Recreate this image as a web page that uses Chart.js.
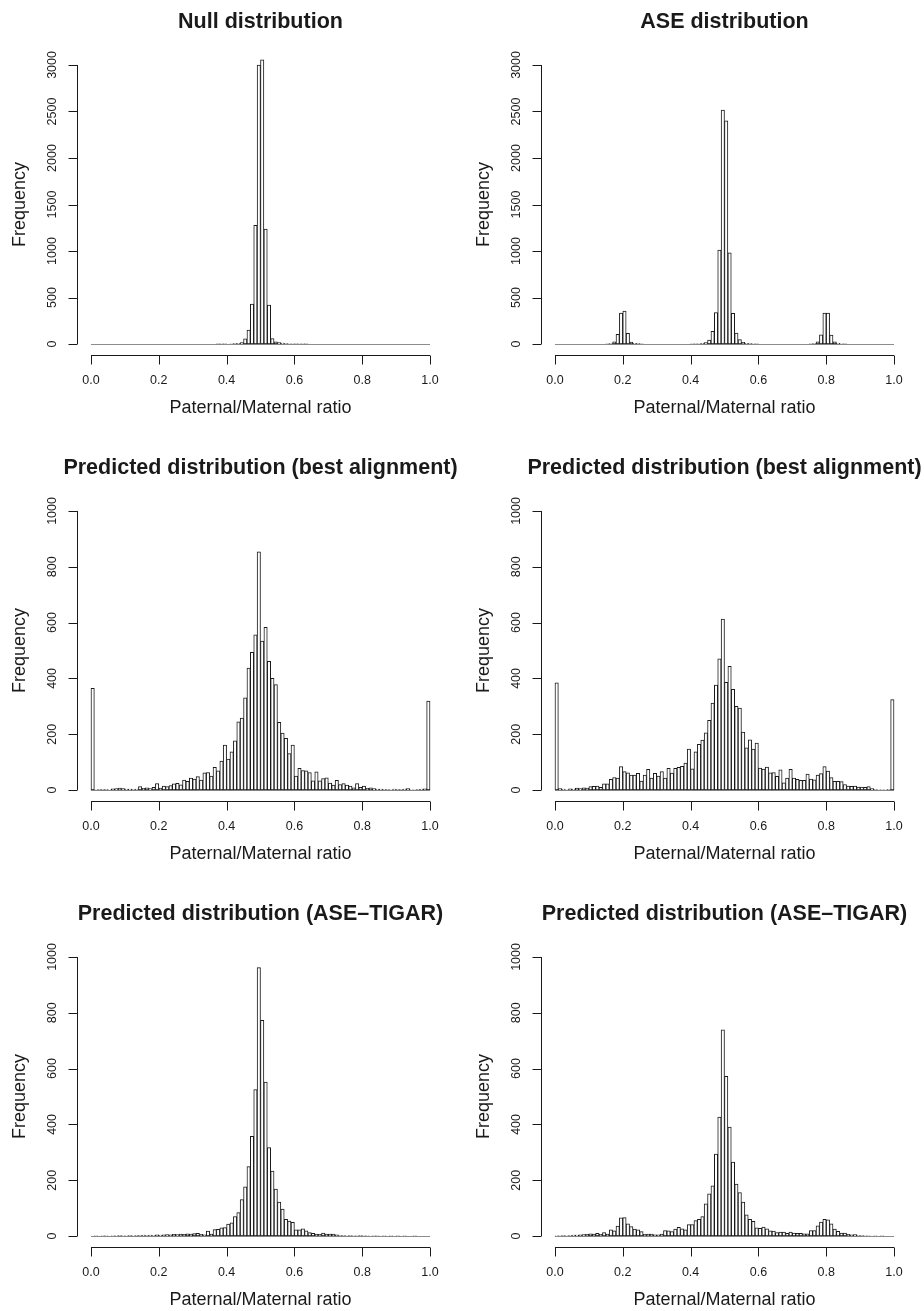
<!DOCTYPE html>
<html>
<head>
<meta charset="utf-8">
<script src="https://cdn.jsdelivr.net/npm/chart.js@4.4.1/dist/chart.umd.min.js"></script>
<style>
  html, body { margin: 0; padding: 0; background: #fff; }
  body { width: 924px; height: 1311px; position: relative; overflow: hidden; }
  canvas { position: absolute; }
</style>
</head>
<body>
<canvas id="nullChart"></canvas>
<canvas id="aseChart"></canvas>
<canvas id="bestNullChart"></canvas>
<canvas id="bestAseChart"></canvas>
<canvas id="tigarNullChart"></canvas>
<canvas id="tigarAseChart"></canvas>
<script>
// 100 bins of width 0.01 on [0, 1]
const binMids = Array.from({ length: 100 }, (_, i) => (i + 0.5) / 100);

const xTicks = [0, 0.2, 0.4, 0.6, 0.8, 1.0];
const xTickLabels = ['0.0', '0.2', '0.4', '0.6', '0.8', '1.0'];
const yTicksTop = [0, 500, 1000, 1500, 2000, 2500, 3000];
const yTicksLow = [0, 200, 400, 600, 800, 1000];

const nullCounts = [
  0, 0, 0, 0, 0, 0, 0, 0, 0, 0,
  0, 0, 0, 0, 0, 0, 0, 0, 0, 0,
  0, 0, 0, 0, 0, 0, 0, 0, 0, 0,
  0, 0, 0, 0, 0, 0, 0, 1, 2, 1,
  0, 2, 4, 8, 15, 55, 150, 430, 1275, 3000,
  3055, 1235, 420, 60, 25, 15, 10, 5, 3, 2,
  1, 2, 2, 1, 0, 0, 0, 0, 0, 0,
  0, 0, 0, 0, 0, 0, 0, 0, 0, 0,
  0, 0, 0, 0, 0, 0, 0, 0, 0, 0,
  0, 0, 0, 0, 0, 0, 0, 0, 0, 0
];

const aseCounts = [
  0, 0, 0, 0, 0, 0, 0, 0, 0, 0,
  0, 0, 0, 0, 0, 1, 6, 25, 104, 333,
  355, 115, 22, 8, 4, 1, 0, 0, 0, 0,
  0, 0, 0, 0, 0, 0, 0, 0, 0, 0,
  2, 1, 3, 8, 15, 43, 136, 337, 1010, 2516,
  2400, 980, 330, 118, 47, 18, 8, 4, 2, 1,
  0, 0, 0, 0, 0, 0, 0, 0, 0, 0,
  0, 0, 0, 0, 0, 1, 6, 25, 100, 333,
  333, 97, 25, 8, 3, 1, 0, 0, 0, 0,
  0, 0, 0, 0, 0, 0, 0, 0, 0, 0
];

const bestNullCounts = [
  364, 1, 2, 2, 2, 1, 4, 5, 7, 5,
  3, 3, 2, 3, 12, 6, 8, 5, 10, 23,
  7, 14, 12, 16, 22, 24, 19, 36, 31, 43,
  39, 48, 36, 62, 63, 50, 81, 69, 104, 161,
  111, 137, 176, 244, 258, 330, 437, 493, 556, 854,
  534, 583, 461, 400, 378, 243, 204, 185, 131, 161,
  50, 78, 70, 69, 63, 33, 65, 33, 41, 44,
  25, 18, 35, 20, 23, 18, 14, 8, 23, 10,
  14, 6, 8, 5, 3, 3, 2, 2, 1, 3,
  2, 2, 3, 5, 1, 1, 2, 3, 4, 319
];

const bestAseCounts = [
  384, 5, 3, 1, 4, 3, 7, 5, 8, 7,
  12, 13, 14, 10, 22, 22, 38, 45, 43, 84,
  66, 62, 54, 54, 60, 32, 54, 74, 43, 60,
  50, 66, 43, 78, 61, 78, 81, 85, 97, 147,
  76, 137, 164, 179, 205, 250, 312, 376, 470, 613,
  386, 443, 361, 300, 294, 208, 151, 180, 147, 168,
  79, 75, 82, 62, 63, 49, 72, 26, 43, 74,
  43, 38, 35, 35, 57, 39, 37, 54, 59, 84,
  68, 45, 31, 31, 30, 20, 14, 13, 14, 11,
  11, 10, 12, 5, 2, 1, 1, 1, 2, 324
];

const tigarNullCounts = [
  0, 1, 0, 1, 1, 0, 1, 1, 2, 1,
  1, 2, 1, 2, 2, 3, 2, 3, 2, 4,
  3, 4, 5, 4, 6, 5, 7, 6, 8, 7,
  9, 10, 6, 4, 18, 7, 23, 24, 29, 30,
  43, 47, 70, 84, 131, 176, 249, 357, 525, 962,
  773, 552, 317, 233, 168, 122, 97, 60, 54, 49,
  22, 22, 26, 19, 12, 10, 7, 6, 11, 7,
  7, 7, 4, 2, 2, 1, 2, 1, 1, 2,
  1, 1, 0, 1, 1, 0, 1, 0, 1, 0,
  1, 0, 1, 0, 0, 1, 0, 0, 0, 0
];

const tigarAseCounts = [
  1, 1, 2, 1, 2, 3, 3, 4, 5, 6,
  8, 7, 10, 6, 12, 7, 22, 19, 36, 65,
  66, 44, 34, 25, 22, 16, 6, 7, 7, 4,
  4, 7, 20, 19, 16, 25, 31, 26, 22, 41,
  41, 55, 60, 70, 115, 151, 180, 294, 426, 739,
  572, 390, 265, 186, 156, 122, 76, 60, 53, 29,
  28, 32, 26, 19, 18, 12, 14, 14, 10, 14,
  11, 10, 10, 8, 8, 20, 20, 37, 50, 60,
  58, 44, 25, 17, 11, 11, 6, 4, 5, 2,
  2, 1, 1, 0, 1, 0, 1, 0, 0, 0
];

const FONT = '"Liberation Sans", Arial, Helvetica, sans-serif';
const INK = '#1a1a1a';

// R-style axes drawn from the chart's own scales
function rAxes(cfg) {
  return {
    id: 'rAxes',
    beforeDatasetsDraw(chart) {
      const { ctx, scales: { x, y } } = chart;
      const py = Math.round(y.getPixelForValue(0)) + 0.5;
      ctx.save();
      ctx.strokeStyle = '#8c8c8c';
      ctx.lineWidth = 1;
      ctx.beginPath();
      ctx.moveTo(x.getPixelForValue(0), py);
      ctx.lineTo(x.getPixelForValue(1), py);
      ctx.stroke();
      ctx.restore();
    },
    afterDraw(chart) {
      const { ctx, chartArea: area, scales: { x, y } } = chart;
      ctx.save();
      ctx.strokeStyle = INK;
      ctx.fillStyle = INK;
      ctx.lineWidth = 1;

      // y axis
      const ax = Math.round(area.left) + 0.5;
      ctx.beginPath();
      ctx.moveTo(ax, y.getPixelForValue(cfg.yTicks[0]));
      ctx.lineTo(ax, y.getPixelForValue(cfg.yTicks[cfg.yTicks.length - 1]));
      cfg.yTicks.forEach(t => {
        const p = Math.round(y.getPixelForValue(t)) + 0.5;
        ctx.moveTo(ax, p);
        ctx.lineTo(ax - 9, p);
      });
      ctx.stroke();
      ctx.font = '12.5px ' + FONT;
      ctx.textAlign = 'center';
      ctx.textBaseline = 'middle';
      cfg.yTicks.forEach(t => {
        ctx.save();
        ctx.translate(ax - 25, y.getPixelForValue(t));
        ctx.rotate(-Math.PI / 2);
        ctx.fillText(String(t), 0, 0);
        ctx.restore();
      });

      // x axis
      const ay = Math.round(area.bottom) + 0.5;
      ctx.beginPath();
      ctx.moveTo(x.getPixelForValue(xTicks[0]), ay);
      ctx.lineTo(x.getPixelForValue(xTicks[xTicks.length - 1]), ay);
      xTicks.forEach(t => {
        const p = Math.round(x.getPixelForValue(t)) + 0.5;
        ctx.moveTo(p, ay);
        ctx.lineTo(p, ay + 9);
      });
      ctx.stroke();
      xTicks.forEach((t, i) => {
        ctx.fillText(xTickLabels[i], x.getPixelForValue(t), area.bottom + 25);
      });

      // axis titles
      const cx = (area.left + area.right) / 2;
      const cy = (area.top + area.bottom) / 2;
      ctx.font = '18px ' + FONT;
      ctx.fillText('Paternal/Maternal ratio', cx, area.bottom + 53);
      ctx.save();
      ctx.translate(area.left - 57, cy);
      ctx.rotate(-Math.PI / 2);
      ctx.fillText('Frequency', 0, 0);
      ctx.restore();

      // main title
      ctx.font = 'bold 21.5px ' + FONT;
      ctx.fillText(cfg.title, cx, area.top - 32);
      ctx.restore();
    }
  };
}

function drawPanel(id, col, row, title, counts, yTicks) {
  const canvas = document.getElementById(id);
  const left = col === 0 ? 0 : 462;
  const top = [0, 446, 892][row];
  const height = row === 2 ? 419 : 446;
  canvas.width = 462;
  canvas.height = height;
  canvas.style.left = left + 'px';
  canvas.style.top = top + 'px';
  canvas.style.width = '462px';
  canvas.style.height = height + 'px';

  const yMax = yTicks[yTicks.length - 1];
  const padLeft = col === 0 ? 77.4 : 79.4;
  const padRight = col === 0 ? 18.4 : 16.4;

  new Chart(canvas.getContext('2d'), {
    type: 'bar',
    data: {
      datasets: [{
        data: binMids.map((m, i) => ({ x: m, y: counts[i] })),
        backgroundColor: '#ffffff',
        borderColor: INK,
        borderWidth: 1,
        borderSkipped: false,
        barPercentage: 1,
        categoryPercentage: 1,
        grouped: false
      }]
    },
    options: {
      responsive: false,
      animation: false,
      devicePixelRatio: 1,
      events: [],
      layout: { padding: { left: padLeft, right: padRight, top: 53.8, bottom: height - 355.2 } },
      plugins: { legend: { display: false }, tooltip: { enabled: false }, title: { display: false } },
      scales: {
        x: { type: 'linear', offset: false, min: -0.04, max: 1.04, display: false },
        y: { type: 'linear', offset: false, min: -0.04 * yMax, max: 1.04 * yMax, display: false }
      }
    },
    plugins: [rAxes({ title, yTicks })]
  });
}

drawPanel('nullChart', 0, 0, 'Null distribution', nullCounts, yTicksTop);
drawPanel('aseChart', 1, 0, 'ASE distribution', aseCounts, yTicksTop);
drawPanel('bestNullChart', 0, 1, 'Predicted distribution (best alignment)', bestNullCounts, yTicksLow);
drawPanel('bestAseChart', 1, 1, 'Predicted distribution (best alignment)', bestAseCounts, yTicksLow);
drawPanel('tigarNullChart', 0, 2, 'Predicted distribution (ASE\u2013TIGAR)', tigarNullCounts, yTicksLow);
drawPanel('tigarAseChart', 1, 2, 'Predicted distribution (ASE\u2013TIGAR)', tigarAseCounts, yTicksLow);
</script>
</body>
</html>
